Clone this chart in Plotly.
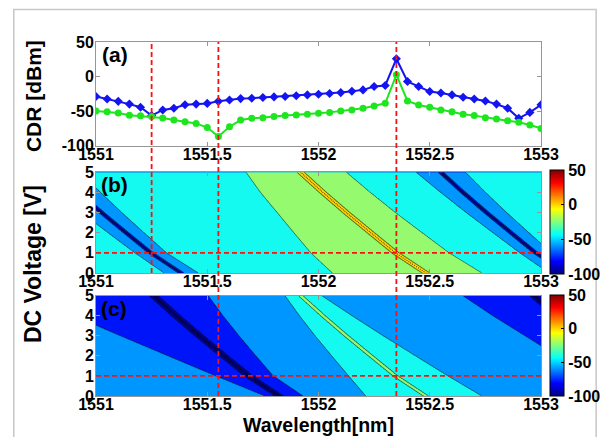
import numpy as np
import plotly.graph_objects as go

# ---------------- panel (a) data ----------------
wavelength_a = [1551.00, 1551.05, 1551.10, 1551.15, 1551.20, 1551.25, 1551.30, 1551.35,
                1551.40, 1551.45, 1551.50, 1551.55, 1551.60, 1551.65, 1551.70, 1551.75,
                1551.80, 1551.85, 1551.90, 1551.95, 1552.00, 1552.05, 1552.10, 1552.15,
                1552.20, 1552.25, 1552.30, 1552.35, 1552.40, 1552.45, 1552.50, 1552.55,
                1552.60, 1552.65, 1552.70, 1552.75, 1552.80, 1552.85, 1552.90, 1552.95,
                1553.00]
cdr_blue = [-29, -32.5, -36, -40, -44.6, -56.7, -48.5, -46, -41, -40, -39, -36, -34, -32,
            -31.5, -30.5, -29.6, -29, -28, -26.7, -25.7, -24.7, -23.3, -21.3, -19.4, -14.5,
            -13, 25.7, -7.3, -14.5, -21.8, -24, -26.7, -30, -32.5, -35.4, -40, -46, -60.6,
            -52, -41]
cdr_green = [-50, -51, -53, -56, -57, -58, -60, -63, -65.5, -68, -74, -87, -73, -63, -60.6,
             -59.7, -58, -56.7, -55.8, -54.8, -53.4, -52, -50, -48.5, -46, -42.7, -38.8, 2.4,
             -35.4, -41.2, -44.6, -48.5, -51, -54.8, -56.7, -59.7, -61.6, -64, -66.4, -70.3,
             -75.2]
marker_wavelengths = [1551.25, 1551.55, 1552.35]
marker_voltage = 1.0

# ---------------- contour maps (features) ----------------
volt_knots = [0, 1, 2, 3, 4, 5]
peak_center = [1552.483, 1552.346, 1552.235, 1552.125, 1552.02, 1551.92]

# panel (b)
b_background = -30
b_peak_left = [0.42, 0.38, 0.345, 0.31, 0.28, 0.245]
b_peak_right = [0.25, 0.24, 0.23, 0.22, 0.212, 0.205]
b_peak_core_d = [0.0, 0.002, 0.014]
b_peak_core_z = [21, 20, 0]
b_peak_edge = -20
b_dip_offsets = [-1.10, 0.63]
b_dip_width = [0.076, 0.07, 0.08, 0.09, 0.10, 0.11]
b_dip_core_d = [0.0, 0.006, 0.010]
b_dip_core_z = [-86, -80, -60]
b_dip_edge = -40

# panel (c)
c_background = -50
c_peak_left = [0.27, 0.21, 0.175, 0.14, 0.105, 0.07]
c_peak_right = [0.25, 0.235, 0.2, 0.165, 0.13, 0.094]
c_peak_core_d = [0.0, 0.009]
c_peak_core_z = [-12, -20]
c_peak_edge = -40
c_dip_offsets = [-0.66, 1.05]
c_dip1_left = [0.061, 0.145, 0.249, 0.353, 0.457, 0.561]
c_dip1_right = [0.106, 0.11, 0.143, 0.177, 0.21, 0.244]
c_dip2_left = [0.135, 0.17, 0.21, 0.245, 0.285, 0.32]
c_dip2_right = [0.135, 0.17, 0.21, 0.245, 0.285, 0.32]
c_dip_core_d = [0.0, 0.006, 0.018]
c_dip_core_z = [-105, -100, -80]
c_dip_edge = -60

cbar_ticks = [-100, -50, 0, 50]
cbar_labels = ['-100', '-50', '0', '50']

lam = np.linspace(1551, 1553, 1601)
volt = np.linspace(0, 5, 81)


def feature(center_knots, offset, left_knots, right_knots, core_d, core_z, edge, bg):
    out = np.zeros((len(volt), len(lam)))
    for i, v in enumerate(volt):
        c = np.interp(v, volt_knots, center_knots) + offset
        sl = np.interp(v, volt_knots, left_knots)
        sr = np.interp(v, volt_knots, right_knots)
        d = lam - c
        row = np.empty_like(lam)
        for mask, s in ((d < 0, sl), (d >= 0, sr)):
            xs = list(core_d) + [s, 2 * s]
            zs = list(core_z) + [edge, bg]
            row[mask] = np.interp(np.abs(d[mask]), xs, zs)
        out[i] = row - bg
    return out


zb = (b_background
      + feature(peak_center, 0.0, b_peak_left, b_peak_right, b_peak_core_d, b_peak_core_z, b_peak_edge, b_background)
      + sum(feature(peak_center, off, b_dip_width, b_dip_width, b_dip_core_d, b_dip_core_z, b_dip_edge, b_background)
            for off in b_dip_offsets))
zc = (c_background
      + feature(peak_center, 0.0, c_peak_left, c_peak_right, c_peak_core_d, c_peak_core_z, c_peak_edge, c_background)
      + feature(peak_center, c_dip_offsets[0], c_dip1_left, c_dip1_right, c_dip_core_d, c_dip_core_z, c_dip_edge, c_background)
      + feature(peak_center, c_dip_offsets[1], c_dip2_left, c_dip2_right, c_dip_core_d, c_dip_core_z, c_dip_edge, c_background))
zb = np.round(zb, 2)
zc = np.round(zc, 2)

# fill colours per band (below -100, [-100,-80], ..., [20,40], above 40)
band_colors = ['rgb(0,0,100)', 'rgb(0,0,150)', 'rgb(0,20,250)', 'rgb(0,150,255)',
               'rgb(20,250,240)', 'rgb(150,250,110)', 'rgb(255,215,0)', 'rgb(255,100,0)',
               'rgb(200,0,0)']
step_scale = []
for k, col in enumerate(band_colors):
    lo = max(0.0, k * 0.125 - 0.0625)
    hi = min(1.0, k * 0.125 + 0.0625)
    step_scale += [[lo, col], [hi, col]]

jet = [[0, 'rgb(0,0,128)'], [0.125, 'rgb(0,0,255)'], [0.375, 'rgb(0,255,255)'],
       [0.625, 'rgb(255,255,0)'], [0.875, 'rgb(255,0,0)'], [1, 'rgb(128,0,0)']]

FONT = 'Liberation Sans, Arial, sans-serif'

# ---------------- geometry ----------------
W, H = 608, 437
ML, MR, MT, MB = 88, 60, 34, 49
PW, PH = W - ML - MR, H - MT - MB


def py(pix):  # pixel y -> paper y
    return (H - MB - pix) / PH


def px(pix):
    return (pix - ML) / PW


dom_a = [py(137.5), 1.0]
dom_b = [py(265), py(164.3)]
dom_c = [0.0, py(287.7)]

fig = go.Figure()

fig.add_trace(go.Scatter(x=wavelength_a, y=cdr_blue, mode='lines+markers',
                         line=dict(color='rgb(20,20,240)', width=2),
                         marker=dict(symbol='diamond', size=7, color='rgb(20,20,240)'),
                         xaxis='x', yaxis='y', showlegend=False, hoverinfo='skip'))
fig.add_trace(go.Scatter(x=wavelength_a, y=cdr_green, mode='lines+markers',
                         line=dict(color='rgb(30,230,30)', width=2),
                         marker=dict(symbol='circle', size=7, color='rgb(30,230,30)'),
                         xaxis='x', yaxis='y', showlegend=False, hoverinfo='skip'))

for z, xa, ya in ((zb, 'x2', 'y2'), (zc, 'x3', 'y3')):
    fig.add_trace(go.Contour(x=lam, y=volt, z=z, xaxis=xa, yaxis=ya, autocontour=False,
                             contours=dict(start=-100, end=40, size=20, coloring='fill',
                                           showlines=True),
                             line=dict(color='rgb(20,20,20)', width=0.6, smoothing=1),
                             colorscale=step_scale, showscale=False, hoverinfo='skip'))

for (y0, y1), xa, ya in (((py(266), py(162)), 'x2', 'y2'), ((py(388), py(287)), 'x3', 'y3')):
    fig.add_trace(go.Scatter(
        x=[1552, 1552], y=[2, 2], xaxis=xa, yaxis=ya, mode='markers', showlegend=False,
        hoverinfo='skip',
        marker=dict(size=1, opacity=0, color=[-100, 50], cmin=-100, cmax=50, colorscale=jet,
                    showscale=True,
                    colorbar=dict(x=px(557), xanchor='left', xpad=0, thickness=14,
                                  thicknessmode='pixels', len=y1 - y0, lenmode='fraction',
                                  y=(y0 + y1) / 2, yanchor='middle', ypad=0,
                                  outlinecolor='black', outlinewidth=1,
                                  tickvals=cbar_ticks, ticktext=cbar_labels,
                                  ticks='inside', ticklen=3, tickcolor='black',
                                  tickfont=dict(family=FONT, size=16, color='black',
                                                weight='bold')))))

axis_common = dict(showline=True, linecolor='rgb(150,150,150)', linewidth=1, mirror='ticks',
                   ticks='inside', ticklen=4, tickcolor='rgb(150,150,150)', showgrid=False,
                   zeroline=False,
                   tickfont=dict(family=FONT, size=16, color='black', weight='bold'))
xticks = [1551, 1551.5, 1552, 1552.5, 1553]
xlabels = ['1551', '1551.5', '1552', '1552.5', '1553']
cdr_ticks = [-100, -50, 0, 50]
cdr_labels = ['-100', '-50', '0', '50']
volt_ticks = [0, 1, 2, 3, 4, 5]
volt_labels = ['0', '1', '2', '3', '4', '5']

xa_style = dict(range=[1551, 1553], tickvals=xticks, ticktext=xlabels, ticklabelstandoff=-6,
                **axis_common)
fig.update_layout(
    width=W, height=H, margin=dict(l=ML, r=MR, t=MT, b=MB),
    paper_bgcolor='white', plot_bgcolor='white',
    font=dict(family=FONT, color='black'),
    xaxis=dict(domain=[0, 1], anchor='y', **xa_style),
    yaxis=dict(domain=dom_a, anchor='x', range=[-100, 50], tickvals=cdr_ticks,
               ticktext=cdr_labels, ticklabelstandoff=-2, **axis_common),
    xaxis2=dict(domain=[0, 1], anchor='y2', **xa_style),
    yaxis2=dict(domain=dom_b, anchor='x2', range=[0, 5], tickvals=volt_ticks,
                ticktext=volt_labels, ticklabelstandoff=-2, **axis_common),
    xaxis3=dict(domain=[0, 1], anchor='y3', **xa_style),
    yaxis3=dict(domain=dom_c, anchor='x3', range=[0, 5], tickvals=volt_ticks,
                ticktext=volt_labels, ticklabelstandoff=-2, **axis_common),
)

red = dict(color='rgb(245,20,20)', width=1.8, dash='5px,3px')
shapes = []
for wl in marker_wavelengths:
    bottom = dom_b[0] if wl == marker_wavelengths[0] else 0.0
    shapes.append(dict(type='line', xref='x', yref='paper', x0=wl, x1=wl, y0=bottom, y1=1.0,
                       line=red, layer='above'))
for ya in ('y2', 'y3'):
    shapes.append(dict(type='line', xref='paper', yref=ya, x0=0, x1=1, y0=marker_voltage,
                       y1=marker_voltage, line=red, layer='above'))
shapes.append(dict(type='rect', xref='paper', yref='paper', x0=px(3), x1=px(605),
                   y0=py(432), y1=py(1.5), line=dict(color='rgb(200,200,200)', width=1.5)))
fig.update_layout(shapes=shapes)

ann_font = dict(family=FONT, size=21, color='black', weight='bold')
annotations = [
    dict(text='(a)', x=px(92), y=py(33), xref='paper', yref='paper', xanchor='left',
         yanchor='top', showarrow=False, font=ann_font),
    dict(text='(b)', x=px(91), y=py(163), xref='paper', yref='paper', xanchor='left',
         yanchor='top', showarrow=False, font=ann_font),
    dict(text='(c)', x=px(91), y=py(287), xref='paper', yref='paper', xanchor='left',
         yanchor='top', showarrow=False, font=ann_font),
    dict(text='CDR [dBm]', x=px(23), y=py(88), xref='paper', yref='paper', xanchor='center',
         yanchor='middle', textangle=-90, showarrow=False,
         font=dict(family=FONT, size=21, color='black', weight='bold')),
    dict(text='DC Voltage [V]', x=px(23), y=py(256), xref='paper', yref='paper',
         xanchor='center', yanchor='middle', textangle=-90, showarrow=False,
         font=dict(family=FONT, size=23, color='black', weight='bold')),
    dict(text='Wavelength[nm]', x=0.5, y=py(417), xref='paper', yref='paper',
         xanchor='center', yanchor='middle', showarrow=False,
         font=dict(family=FONT, size=19.5, color='black', weight='bold')),
]
fig.update_layout(annotations=annotations)

fig.write_html('out.html')
